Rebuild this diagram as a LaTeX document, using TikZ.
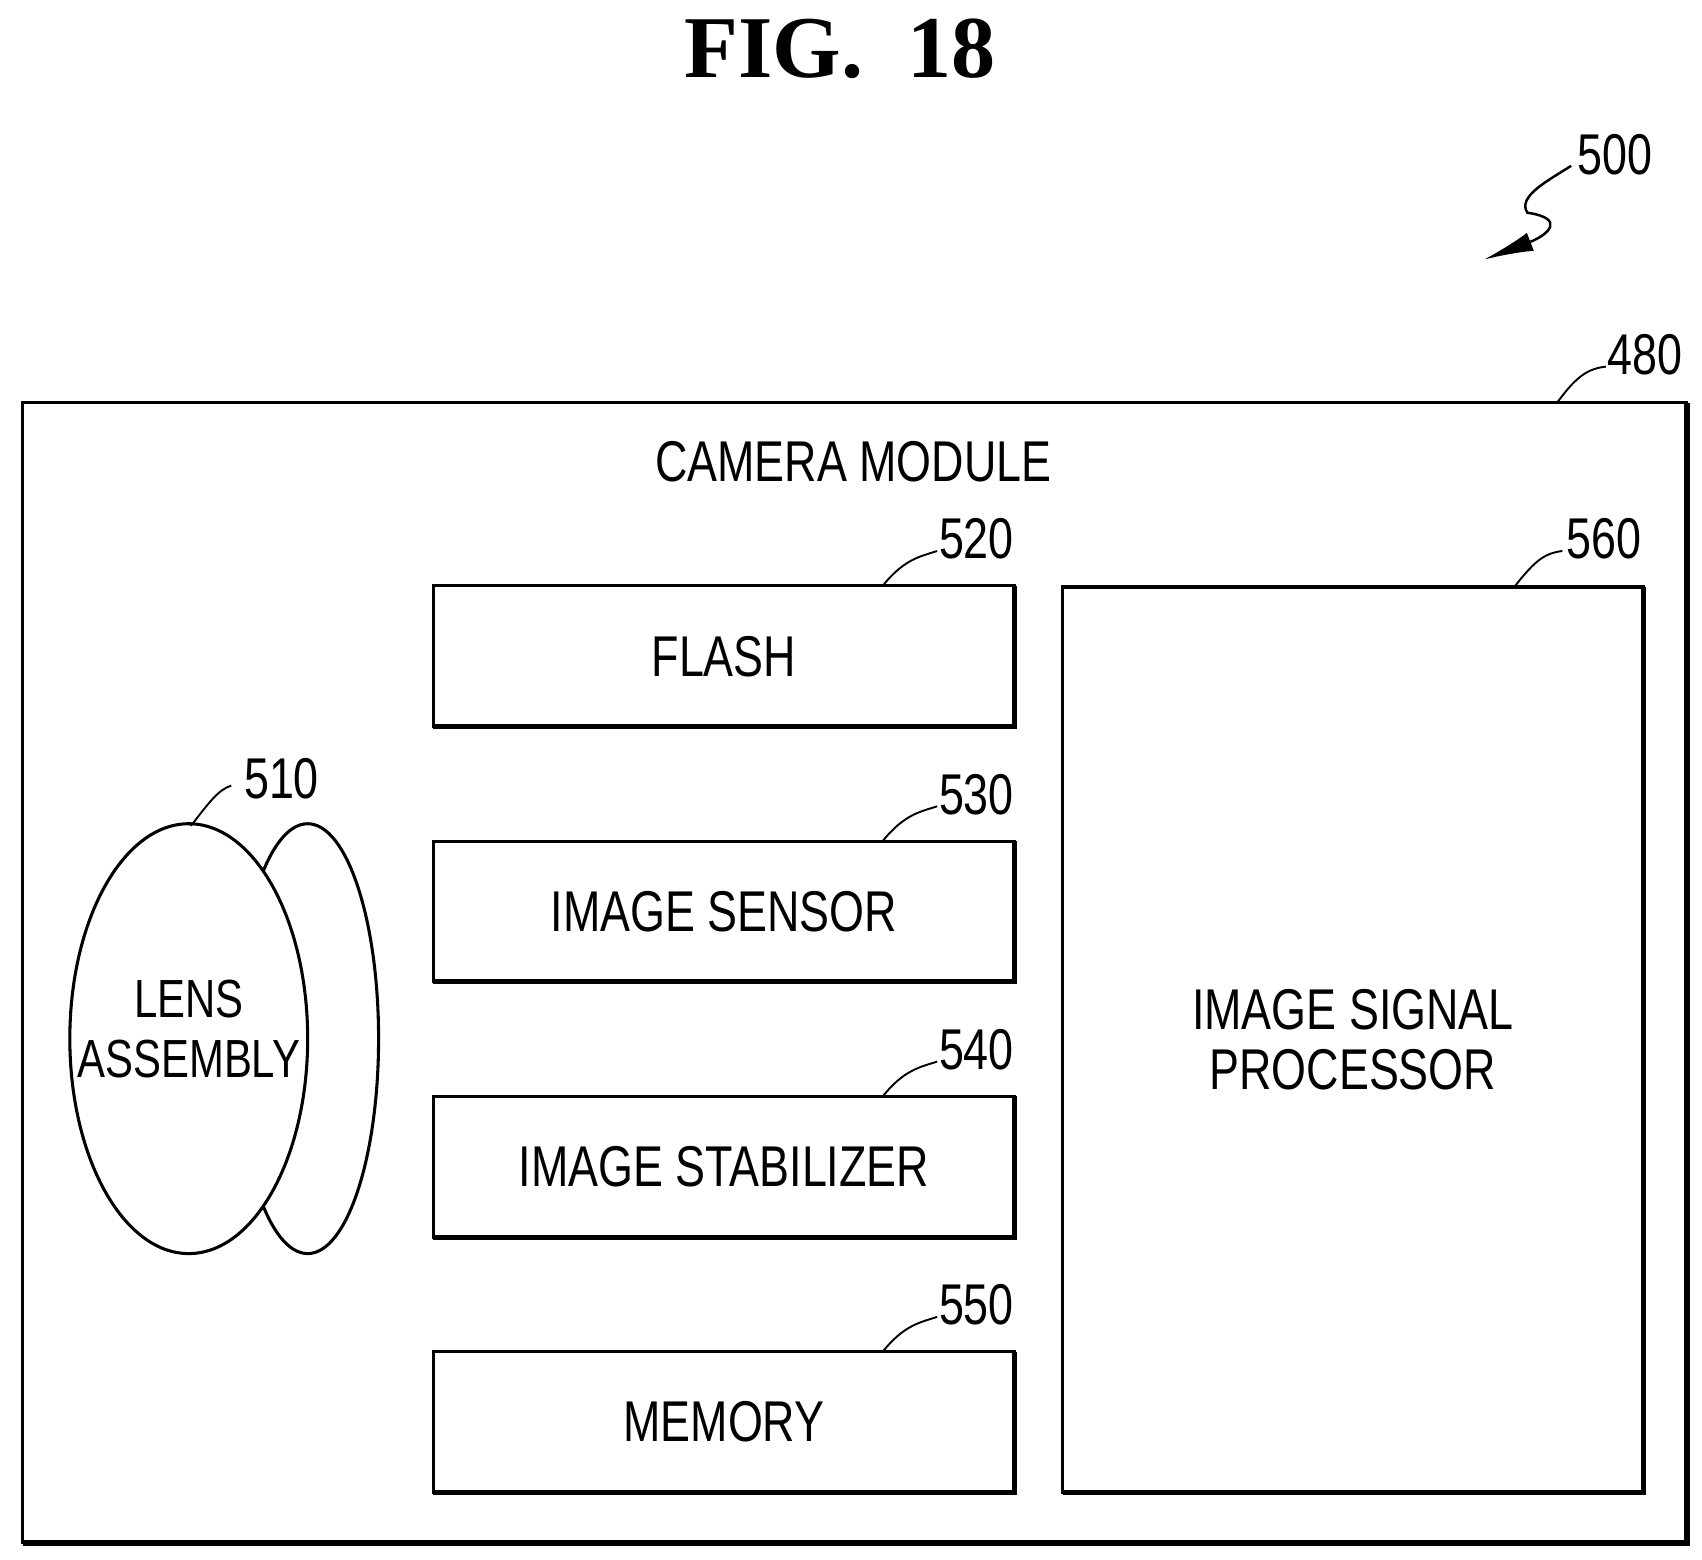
\documentclass[tikz,border=0pt]{standalone}
\usepackage{fontspec}
\setmainfont{Liberation Sans}[FakeStretch=0.78]
\newfontfamily\titlefont{Liberation Serif}
\usetikzlibrary{arrows.meta}
\begin{document}
\begin{tikzpicture}[x=0.02cm,y=-0.02cm,
  box/.style={draw,line width=1.6pt,minimum width=533*0.02cm,minimum height=129*0.02cm,anchor=north west,inner sep=0pt,outer sep=0pt,font=\fontsize{30}{32}\selectfont},
  lbl/.style={font=\fontsize{30}{32}\selectfont},
  lead/.style={line width=1pt}]
\useasboundingbox (0,0) rectangle (1560,1429);
\node[font=\titlefont\bfseries\fontsize{46}{50}\selectfont] (title) at (770,45) {FIG.\ \ 18};
% outer
\node[draw,line width=1.6pt,minimum width=1525*0.02cm,minimum height=1045*0.02cm,anchor=north west,inner sep=0pt,outer sep=0pt] (cam) at (21,369) {};
\draw[line width=3pt] (cam.north east) -- (cam.south east) -- (cam.south west);
\node[lbl] (camt) at (782,423) {CAMERA MODULE};
\node[lbl] (l480) at (1508,325) {480};
\coordinate (c480) at (1428,368);
\draw[lead] (c480) .. controls (1445,345) and (1455,338) .. (1472,336);
% 500
\node[lbl] (l500) at (1480,142) {500};
\coordinate (a500) at (1360,238);
\draw[line width=1.3pt,-{Latex[length=26pt,width=10pt]}] (1440,152) .. controls (1420,165) and (1390,180) .. (1400,195) .. controls (1435,200) and (1420,215) .. (a500);
% boxes
\foreach \n/\y/\t/\num in {flash/537/FLASH/520,sensor/771/IMAGE SENSOR/530,stab/1005/IMAGE STABILIZER/540,mem/1239/MEMORY/550}{
  \node[box] (\n) at (397,\y) {\t};
  \draw[line width=2.6pt] (\n.north east) -- (\n.south east) -- (\n.south west);
  \node[lbl] (l\num) at (895,\y-43) {\num};
  \draw[lead] (\n.north east) ++(-121,0) coordinate (c\num) .. controls +(20,-25) and +(-15,5) .. +(50,-32);
}
\node[draw,line width=1.6pt,minimum width=532*0.02cm,minimum height=830*0.02cm,anchor=north west,inner sep=0pt,outer sep=0pt,align=center,font=\fontsize{30}{31}\selectfont] (isp) at (974,538) {IMAGE SIGNAL\\PROCESSOR};
\draw[line width=2.6pt] (isp.north east) -- (isp.south east) -- (isp.south west);
\node[lbl] (l560) at (1470,494) {560};
\draw[lead] (1388,538) .. controls (1408,512) and (1417,507) .. (1432,505);
% lens
\draw[line width=1.6pt] (282,952) ellipse [x radius=65,y radius=197];
\draw[line width=1.6pt,fill=white] (173,952) ellipse [x radius=109,y radius=197];
\node[align=center,font=\fontsize{28}{31}\selectfont] (lens) at (173,943) {LENS\\ASSEMBLY};
\node[lbl] (l510) at (258,714) {510};
\draw[lead] (175,757) .. controls (192,735) and (200,724) .. (212,720);
\end{tikzpicture}
\end{document}
